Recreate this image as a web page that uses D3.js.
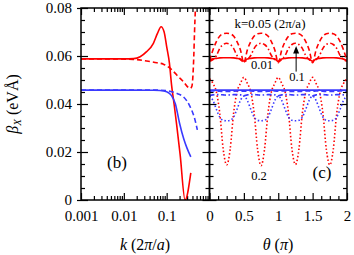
<!DOCTYPE html>
<html>
<head>
<meta charset="utf-8">
<script src="https://cdn.jsdelivr.net/npm/d3@7"></script>
<style>
  body { margin: 0; background: #fff; }
  svg { display: block; }
  svg text { font-family: "Liberation Serif", "DejaVu Serif", serif; }
</style>
</head>
<body>
<div class="chart"></div>
<script>
// ---- panel (b): beta_X against k (log axis) ----
var kRedSolid  = [0.001, 0.003, 0.01, 0.017, 0.024, 0.034, 0.049, 0.061, 0.074, 0.087, 0.1, 0.116, 0.13, 0.149, 0.172, 0.206, 0.269, 0.366];
var redSolidK  = [0.0588, 0.0588, 0.0588, 0.0589, 0.0597, 0.0618, 0.0653, 0.0694, 0.0722, 0.0701, 0.0639, 0.057, 0.048, 0.040, 0.031, 0.019, 0.0, 0.0113];
var kRedDash   = [0.001, 0.005, 0.0166, 0.041, 0.059, 0.084, 0.12, 0.172, 0.246, 0.352, 0.385, 0.407, 0.43, 0.446, 0.46, 0.48];
var redDashK   = [0.0588, 0.0588, 0.0586, 0.0577, 0.0572, 0.0566, 0.0549, 0.0521, 0.0493, 0.0465, 0.0472, 0.0507, 0.060, 0.0694, 0.076, 0.085];
var kBlueSolid = [0.001, 0.01, 0.05, 0.07, 0.1, 0.13, 0.16, 0.2, 0.25, 0.3, 0.366];
var blueSolidK = [0.0458, 0.0458, 0.0457, 0.0456, 0.0451, 0.0435, 0.040, 0.032, 0.0255, 0.0215, 0.018];
var kBlueDash  = [0.001, 0.01, 0.05, 0.1, 0.132, 0.18, 0.246, 0.352, 0.46, 0.52];
var blueDashK  = [0.0458, 0.0458, 0.0458, 0.0456, 0.0451, 0.0443, 0.043, 0.0389, 0.0333, 0.0292];

// ---- panel (c): beta_X against theta ----
var theta = [0, 0.05, 0.1, 0.15, 0.2, 0.25, 0.3, 0.35, 0.4, 0.45, 0.5,
             0.55, 0.6, 0.65, 0.7, 0.75, 0.8, 0.85, 0.9, 0.95, 1,
             1.05, 1.1, 1.15, 1.2, 1.25, 1.3, 1.35, 1.4, 1.45, 1.5,
             1.55, 1.6, 1.65, 1.7, 1.75, 1.8, 1.85, 1.9, 1.95, 2];
var redK001 = [0.0585, 0.0588, 0.059, 0.0592, 0.0593, 0.0593, 0.0593, 0.0592, 0.059, 0.0587, 0.0579,
               0.0587, 0.059, 0.0592, 0.0593, 0.0593, 0.0593, 0.0592, 0.059, 0.0587, 0.0579,
               0.0587, 0.059, 0.0592, 0.0593, 0.0593, 0.0593, 0.0592, 0.059, 0.0587, 0.0579,
               0.0587, 0.059, 0.0592, 0.0593, 0.0593, 0.0593, 0.0592, 0.059, 0.0587, 0.0581];
var redK005 = [0.058, 0.0625, 0.066, 0.0683, 0.0693, 0.0695, 0.0693, 0.0683, 0.066, 0.0625, 0.0572,
               0.0625, 0.066, 0.0683, 0.0693, 0.0695, 0.0693, 0.0683, 0.066, 0.0625, 0.0572,
               0.0625, 0.066, 0.0683, 0.0693, 0.0695, 0.0693, 0.0683, 0.066, 0.0625, 0.0572,
               0.0625, 0.066, 0.0683, 0.0693, 0.0695, 0.0693, 0.0683, 0.066, 0.0625, 0.058];
var redK01  = [0.0578, 0.0585, 0.0602, 0.0632, 0.0648, 0.0653, 0.0648, 0.0632, 0.0602, 0.0585, 0.0576,
               0.0585, 0.0602, 0.0632, 0.0648, 0.0653, 0.0648, 0.0632, 0.0602, 0.0585, 0.0576,
               0.0585, 0.0602, 0.0632, 0.0648, 0.0653, 0.0648, 0.0632, 0.0602, 0.0585, 0.0576,
               0.0585, 0.0602, 0.0632, 0.0648, 0.0653, 0.0648, 0.0632, 0.0602, 0.0585, 0.0578];
var redK02  = [0.0505, 0.0486, 0.045, 0.036, 0.021, 0.0146, 0.021, 0.036, 0.045, 0.0486, 0.0511,
               0.0486, 0.045, 0.036, 0.021, 0.0143, 0.021, 0.036, 0.045, 0.0486, 0.0511,
               0.0486, 0.045, 0.036, 0.021, 0.0148, 0.021, 0.036, 0.045, 0.0486, 0.0511,
               0.0486, 0.045, 0.036, 0.021, 0.0146, 0.021, 0.036, 0.045, 0.0486, 0.0505];
var blueK001 = [0.0458, 0.0458, 0.0458, 0.0458, 0.0458, 0.0458, 0.0458, 0.0458, 0.0458, 0.0458, 0.0458,
                0.0458, 0.0458, 0.0458, 0.0458, 0.0458, 0.0458, 0.0458, 0.0458, 0.0458, 0.0458,
                0.0458, 0.0458, 0.0458, 0.0458, 0.0458, 0.0458, 0.0458, 0.0458, 0.0458, 0.0458,
                0.0458, 0.0458, 0.0458, 0.0458, 0.0458, 0.0458, 0.0458, 0.0458, 0.0458, 0.0458];
var blueK005 = [0.0453, 0.0454, 0.0454, 0.0453, 0.0452, 0.0452, 0.0452, 0.0453, 0.0454, 0.0454, 0.0453,
                0.0454, 0.0454, 0.0453, 0.0452, 0.0452, 0.0452, 0.0453, 0.0454, 0.0454, 0.0453,
                0.0454, 0.0454, 0.0453, 0.0452, 0.0452, 0.0452, 0.0453, 0.0454, 0.0454, 0.0453,
                0.0454, 0.0454, 0.0453, 0.0452, 0.0452, 0.0452, 0.0453, 0.0454, 0.0454, 0.0453];
var blueK01  = [0.0436, 0.0438, 0.0439, 0.0439, 0.0438, 0.0437, 0.0438, 0.0439, 0.0439, 0.0438, 0.0434,
                0.0438, 0.0439, 0.0439, 0.0438, 0.0437, 0.0438, 0.0439, 0.0439, 0.0438, 0.0434,
                0.0438, 0.0439, 0.0439, 0.0438, 0.0437, 0.0438, 0.0439, 0.0439, 0.0438, 0.0434,
                0.0438, 0.0439, 0.0439, 0.0438, 0.0437, 0.0438, 0.0439, 0.0439, 0.0438, 0.0436];
var blueK02  = [0.0433, 0.0415, 0.0378, 0.0345, 0.0332, 0.033, 0.0332, 0.0345, 0.0378, 0.0415, 0.0433,
                0.0415, 0.0378, 0.0345, 0.0332, 0.033, 0.0332, 0.0345, 0.0378, 0.0415, 0.0433,
                0.0415, 0.0378, 0.0345, 0.0332, 0.033, 0.0332, 0.0345, 0.0378, 0.0415, 0.0433,
                0.0415, 0.0378, 0.0345, 0.0332, 0.033, 0.0332, 0.0345, 0.0378, 0.0415, 0.0433];

var yTicks = [0, 0.02, 0.04, 0.06, 0.08];
var yTickLabels = ['0', '0.02', '0.04', '0.06', '0.08'];
var kTicks = [0.001, 0.01, 0.1];
var kTickLabels = ['0.001', '0.01', '0.1'];
var thetaTicks = [0, 0.5, 1, 1.5, 2];
var thetaTickLabels = ['0', '0.5', '1', '1.5', '2'];

var RED = '#ff0000', BLUE = '#3a3aff';
var FONT = '"Liberation Serif", "DejaVu Serif", serif';

var svg = d3.select('.chart').append('svg')
            .attr('width', 354)
            .attr('height', 255);

var y  = d3.scaleLinear().domain([0, 0.08]).range([200, 8]);
var xK = d3.scaleLog().domain([0.001, 1]).range([81, 209.5]);
var xT = d3.scaleLinear().domain([0, 2]).range([209.5, 347]);

// minor tick positions
var kMinor = [];
[0.001, 0.01, 0.1].forEach(function(d){ for (var m = 2; m <= 9; m++) kMinor.push(d * m); });
var yMinor = [];
for (var i = 1; i < 16; i++) if (i % 4 !== 0) yMinor.push(i * 0.005);
var tMinor = [];
for (var j = 1; j < 16; j++) if (j % 4 !== 0) tMinor.push(j * 0.125);

function tickGroup(axis, vals, size, tx, ty) {
  var g = svg.append('g').attr('transform', 'translate(' + tx + ',' + ty + ')');
  g.call(axis.tickValues(vals).tickSize(size).tickFormat(''));
  g.select('.domain').remove();
  g.selectAll('line').attr('stroke', '#000').attr('stroke-width', 1.2);
  return g;
}

// clip paths
var defs = svg.append('defs');
defs.append('clipPath').attr('id', 'clipB').append('rect')
    .attr('x', 81).attr('y', 8).attr('width', 128.5).attr('height', 192);
defs.append('clipPath').attr('id', 'clipC').append('rect')
    .attr('x', 209.5).attr('y', 8).attr('width', 137.5).attr('height', 192);

// ---- ticks, panel (b) ----
tickGroup(d3.axisBottom(xK), kTicks, -7, 0, 200);
tickGroup(d3.axisBottom(xK), kMinor, -4, 0, 200);
tickGroup(d3.axisTop(xK), kTicks, -7, 0, 8);
tickGroup(d3.axisTop(xK), kMinor, -4, 0, 8);
tickGroup(d3.axisLeft(y), yTicks, -7, 81, 0);
tickGroup(d3.axisLeft(y), yTicks, 4, 81, 0);
tickGroup(d3.axisLeft(y), yMinor, -4, 81, 0);
tickGroup(d3.axisRight(y), yTicks, -7, 209.5, 0);
tickGroup(d3.axisRight(y), yMinor, -4, 209.5, 0);

// ---- ticks, panel (c) ----
tickGroup(d3.axisBottom(xT), thetaTicks, -7, 0, 200);
tickGroup(d3.axisBottom(xT), tMinor, -4, 0, 200);
tickGroup(d3.axisTop(xT), thetaTicks, -7, 0, 8);
tickGroup(d3.axisTop(xT), tMinor, -4, 0, 8);
tickGroup(d3.axisLeft(y), yTicks, -7, 209.5, 0);
tickGroup(d3.axisLeft(y), yMinor, -4, 209.5, 0);
tickGroup(d3.axisRight(y), yTicks, -7, 347, 0);
tickGroup(d3.axisRight(y), yMinor, -4, 347, 0);

// tick labels
function labelAxis(axis, vals, labels, tx, ty) {
  var g = svg.append('g').attr('transform', 'translate(' + tx + ',' + ty + ')');
  g.call(axis.tickValues(vals).tickSize(0).tickPadding(0)
             .tickFormat(function(d, i){ return labels[i]; }));
  g.attr('font-family', FONT).attr('font-size', 15);
  g.select('.domain').remove();
  g.selectAll('text').attr('fill', '#000');
  return g;
}
labelAxis(d3.axisBottom(xK), kTicks, kTickLabels, 0, 210);
labelAxis(d3.axisBottom(xT), thetaTicks, thetaTickLabels, 0, 210);
labelAxis(d3.axisLeft(y), yTicks, yTickLabels, 72, 0);

// ---- curves ----
function drawCurve(clip, xs, xScale, ys, color, dash, width) {
  var pts = xs.map(function(d, i){ return [d, ys[i]]; });
  var line = d3.line()
    .x(function(d){ return xScale(d[0]); })
    .y(function(d){ return y(d[1]); })
    .curve(d3.curveMonotoneX);
  svg.append('path')
    .attr('clip-path', 'url(#' + clip + ')')
    .attr('d', line(pts))
    .attr('fill', 'none')
    .attr('stroke', color)
    .attr('stroke-width', width || 1.6)
    .attr('stroke-dasharray', dash || null);
}

drawCurve('clipB', kRedSolid, xK, redSolidK, RED);
drawCurve('clipB', kRedDash, xK, redDashK, RED, '5,3');
drawCurve('clipB', kBlueSolid, xK, blueSolidK, BLUE);
drawCurve('clipB', kBlueDash, xK, blueDashK, BLUE, '5,3');

drawCurve('clipC', theta, xT, redK02, RED, '1.5,2.2');
drawCurve('clipC', theta, xT, redK01, RED, '5,2.5,1.5,2.5');
drawCurve('clipC', theta, xT, redK005, RED, '5,3');
drawCurve('clipC', theta, xT, redK001, RED);
drawCurve('clipC', theta, xT, blueK02, BLUE, '1.5,2.2');
drawCurve('clipC', theta, xT, blueK01, BLUE, '5,2.5,1.5,2.5');
drawCurve('clipC', theta, xT, blueK005, BLUE, '5,3');
drawCurve('clipC', theta, xT, blueK001, BLUE);

// frames
svg.append('rect').attr('x', 81).attr('y', 8).attr('width', 128.5).attr('height', 192)
   .attr('fill', 'none').attr('stroke', '#000').attr('stroke-width', 1.5);
svg.append('rect').attr('x', 209.5).attr('y', 8).attr('width', 137.5).attr('height', 192)
   .attr('fill', 'none').attr('stroke', '#000').attr('stroke-width', 1.5);

// arrow towards the k=0.1 curve
svg.append('line')
   .attr('x1', xT(1.26)).attr('y1', y(0.0535))
   .attr('x2', xT(1.26)).attr('y2', y(0.0625))
   .attr('stroke', '#000').attr('stroke-width', 1);
svg.append('path')
   .attr('d', 'M' + xT(1.26) + ',' + y(0.0642) + 'l-3,7.5l6,0z')
   .attr('fill', '#000');

// annotations
function txt(x, yy, s, size, anchor) {
  return svg.append('text').attr('x', x).attr('y', yy).attr('font-size', size)
    .attr('font-family', FONT)
    .attr('text-anchor', anchor || 'middle').attr('fill', '#000').text(s);
}
txt(270, 28, 'k=0.05 (2π/a)', 13);
txt(262, 69, '0.01', 12.5);
txt(297, 81, '0.1', 12.5);
txt(259, 180, '0.2', 12.5);
txt(117, 168, '(b)', 17);
txt(322, 178, '(c)', 17);

// axis titles
var kl = svg.append('text').attr('x', 145).attr('y', 250).attr('font-size', 16)
  .attr('font-family', FONT).attr('text-anchor', 'middle');
kl.append('tspan').attr('font-style', 'italic').text('k');
kl.append('tspan').text(' (2');
kl.append('tspan').attr('font-style', 'italic').text('π');
kl.append('tspan').text('/');
kl.append('tspan').attr('font-style', 'italic').text('a');
kl.append('tspan').text(')');

var tl = svg.append('text').attr('x', 278).attr('y', 250).attr('font-size', 16)
  .attr('font-family', FONT).attr('text-anchor', 'middle');
tl.append('tspan').attr('font-style', 'italic').text('θ');
tl.append('tspan').text(' (');
tl.append('tspan').attr('font-style', 'italic').text('π');
tl.append('tspan').text(')');

var yl = svg.append('text').attr('transform', 'translate(18,104) rotate(-90)')
  .attr('font-family', FONT).attr('font-size', 16).attr('text-anchor', 'middle');
yl.append('tspan').attr('font-style', 'italic').text('β');
yl.append('tspan').attr('font-style', 'italic').attr('font-size', 11).attr('dy', 3).text('X');
yl.append('tspan').attr('dy', -3).text(' (eVÅ)');
</script>
</body>
</html>
